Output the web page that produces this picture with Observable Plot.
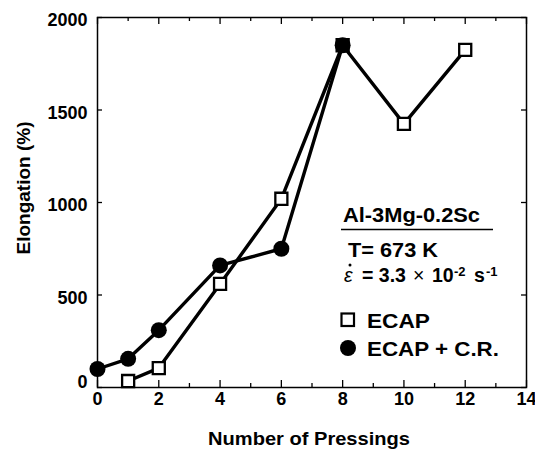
<!DOCTYPE html>
<html><head><meta charset="utf-8">
<script src="https://cdn.jsdelivr.net/npm/d3@7"></script>
<script src="https://cdn.jsdelivr.net/npm/@observablehq/plot@0.6"></script>
<style>body{margin:0;background:#fff}</style>
</head><body><div id="chart"></div>
<script>
// ---- data ----
const ecapX = [1, 2, 4, 6, 8, 10, 12];
const ecapY = [35, 105, 560, 1020, 1850, 1425, 1825];
const crX = [0, 1, 2, 4, 6, 8];
const crY = [100, 155, 310, 660, 750, 1850];
const xMajorTicks = [0, 2, 4, 6, 8, 10, 12, 14];
const xMinorTicks = [1, 3, 5, 7, 9, 11, 13];
const yTicks = [0, 500, 1000, 1500, 2000];
const xLabel = "Number of Pressings";
const yLabel = "Elongation (%)";
const legendTitle = "Al-3Mg-0.2Sc";
const conditionT = "T= 673 K";
const seriesNames = ["ECAP", "ECAP + C.R."];

const ecap = ecapX.map((x, i) => ({x, y: ecapY[i]}));
const cr = crX.map((x, i) => ({x, y: crY[i]}));

const W = 535, H = 449, mL = 97, mR = 9, mT = 17, mB = 62;
const iH = H - mT - mB, iW = W - mL - mR;
const font = "'Liberation Sans', Arial, Helvetica, sans-serif";
const fmt = d => String(d);

const chart = Plot.plot({
  width: W, height: H,
  marginLeft: mL, marginRight: mR, marginTop: mT, marginBottom: mB,
  x: {domain: [0, 14]},
  y: {domain: [0, 2000]},
  style: {fontFamily: font, fontWeight: "bold", fontSize: "18px", color: "black", background: "white", overflow: "visible"},
  marks: [
    Plot.ruleX(xMajorTicks, {x: d => d, insetTop: iH - 7, stroke: "black", strokeWidth: 1.3}),
    Plot.ruleX(xMajorTicks, {x: d => d, insetBottom: iH - 7, stroke: "black", strokeWidth: 1.3}),
    Plot.ruleX(xMinorTicks, {x: d => d, insetTop: iH - 4, stroke: "black", strokeWidth: 1.3}),
    Plot.ruleX(xMinorTicks, {x: d => d, insetBottom: iH - 4, stroke: "black", strokeWidth: 1.3}),
    Plot.ruleY(yTicks, {y: d => d, insetRight: iW - 5, stroke: "black", strokeWidth: 1.3}),
    Plot.ruleY(yTicks, {y: d => d, insetLeft: iW - 5, stroke: "black", strokeWidth: 1.3}),
    Plot.frame({stroke: "black", strokeWidth: 1.5}),
    Plot.axisX({ticks: xMajorTicks, tickSize: 0, tickPadding: 5, label: null, tickFormat: fmt}),
    Plot.axisY({ticks: yTicks.filter(d => d > 0), tickSize: 0, tickPadding: 10, label: null, tickFormat: fmt, dy: 3}),
    Plot.axisY({ticks: [0], tickSize: 0, tickPadding: 10, label: null, tickFormat: fmt, dy: -5}),
    Plot.line(ecap, {x: "x", y: "y", stroke: "black", strokeWidth: 3.4}),
    Plot.line(cr, {x: "x", y: "y", stroke: "black", strokeWidth: 3.4}),
    Plot.dot(ecap, {x: "x", y: "y", symbol: "square", r: 6.8, fill: "white", stroke: "black", strokeWidth: 2.3}),
    Plot.dot(cr, {x: "x", y: "y", symbol: "circle", r: 8, fill: "black", stroke: "none"})
  ]
});
document.getElementById("chart").append(chart);

const svg = d3.select(chart);
const bold = (sel) => sel.attr("font-family", font).attr("font-weight", "bold").attr("fill", "black").attr("text-anchor", "start");

// axis titles
bold(svg.append("text")).attr("x", 309).attr("y", 445).attr("text-anchor", "middle")
  .attr("font-size", 19).attr("textLength", 202).attr("lengthAdjust", "spacingAndGlyphs").text(xLabel);
bold(svg.append("text")).attr("transform", "translate(30,188) rotate(-90)").attr("text-anchor", "middle")
  .attr("font-size", 19).text(yLabel);

// legend / annotation
bold(svg.append("text")).attr("x", 343).attr("y", 222).attr("font-size", 19.5)
  .attr("textLength", 137).attr("lengthAdjust", "spacingAndGlyphs").text(legendTitle);
svg.append("line").attr("x1", 341).attr("x2", 493).attr("y1", 229.5).attr("y2", 229.5)
  .attr("stroke", "black").attr("stroke-width", 1.3);
bold(svg.append("text")).attr("x", 348).attr("y", 257).attr("font-size", 19.5)
  .attr("textLength", 90).attr("lengthAdjust", "spacingAndGlyphs").text(conditionT);

const eps = svg.append("text").attr("font-family", font).attr("fill", "black").attr("text-anchor", "start")
  .attr("font-size", 19.5).attr("y", 282);
eps.append("tspan").attr("x", 344).attr("font-style", "italic").attr("font-weight", "normal").text("ε");
eps.append("tspan").attr("x", 362).attr("font-weight", "bold").text("= 3.3");
eps.append("tspan").attr("x", 413).attr("font-weight", "normal").text("×");
eps.append("tspan").attr("x", 432).attr("font-weight", "bold").text("10");
eps.append("tspan").attr("x", 454).attr("dy", -6).attr("font-weight", "bold").attr("font-size", 13).text("-2");
eps.append("tspan").attr("x", 474).attr("dy", 6).attr("font-weight", "bold").text("s");
eps.append("tspan").attr("x", 486).attr("dy", -6).attr("font-weight", "bold").attr("font-size", 13).text("-1");
svg.append("circle").attr("cx", 350).attr("cy", 265).attr("r", 1.5).attr("fill", "black");

svg.append("rect").attr("x", 341.5).attr("y", 313.5).attr("width", 12.5).attr("height", 12.5)
  .attr("fill", "white").attr("stroke", "black").attr("stroke-width", 2.2);
bold(svg.append("text")).attr("x", 367).attr("y", 328).attr("font-size", 19.5)
  .attr("textLength", 63).attr("lengthAdjust", "spacingAndGlyphs").text(seriesNames[0]);
svg.append("circle").attr("cx", 348).attr("cy", 348).attr("r", 8).attr("fill", "black");
bold(svg.append("text")).attr("x", 367).attr("y", 356).attr("font-size", 19.5)
  .attr("textLength", 132).attr("lengthAdjust", "spacingAndGlyphs").text(seriesNames[1]);
</script>
</body></html>
